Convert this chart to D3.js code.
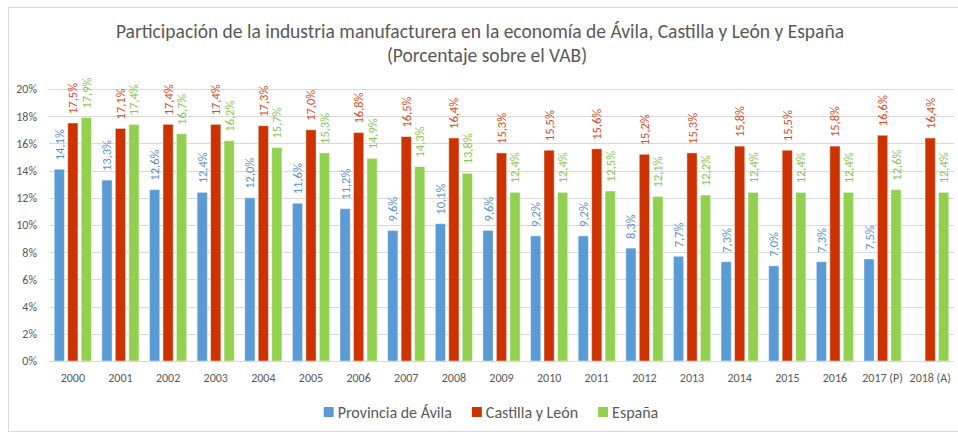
<!DOCTYPE html>
<html>
<head>
<meta charset="utf-8">
<script src="https://cdn.jsdelivr.net/npm/d3@7"></script>
<style>
    body { margin: 0; background: #fff; }
    svg text { font-family: Calibri, Carlito, "Open Sans", sans-serif; }
</style>
</head>
<body>
<div id="chart"></div>
<script>
// years and series
var years = ["2000", "2001", "2002", "2003", "2004", "2005", "2006", "2007", "2008", "2009",
             "2010", "2011", "2012", "2013", "2014", "2015", "2016", "2017 (P)", "2018 (A)"];
var avila  = [14.1, 13.3, 12.6, 12.4, 12.0, 11.6, 11.2, 9.6, 10.1, 9.6, 9.2, 9.2, 8.3, 7.7, 7.3, 7.0, 7.3, 7.5, null];
var cyl    = [17.5, 17.1, 17.4, 17.4, 17.3, 17.0, 16.8, 16.5, 16.4, 15.3, 15.5, 15.6, 15.2, 15.3, 15.8, 15.5, 15.8, 16.6, 16.4];
var espana = [17.9, 17.4, 16.7, 16.2, 15.7, 15.3, 14.9, 14.3, 13.8, 12.4, 12.4, 12.5, 12.1, 12.2, 12.4, 12.4, 12.4, 12.6, 12.4];
var seriesNames = ["Provincia de Ávila", "Castilla y León", "España"];
var yTicks = [0, 2, 4, 6, 8, 10, 12, 14, 16, 18, 20];

var barColors   = ["#5b9bd5", "#cc3300", "#92d050"];
var labelColors = ["#5a8fd6", "#de4a21", "#86c552"];
var textGray = "#595959";

var width = 958, height = 434;
var margin = {top: 89, right: 4, bottom: 73, left: 49};
var innerWidth = width - margin.left - margin.right;
var innerHeight = height - margin.top - margin.bottom;

var es = d3.formatLocale({decimal: ",", thousands: ".", grouping: [3], currency: ["", "€"]});
var fmt = es.format(".1f");

var svg = d3.select("#chart").append("svg")
    .attr("width", width)
    .attr("height", height);

// chart frame
svg.append("rect")
    .attr("x", 8.5).attr("y", 7.5)
    .attr("width", 960).attr("height", 424)
    .attr("fill", "none")
    .attr("stroke", "#d9d9d9");

// title
var title = svg.append("text")
    .attr("text-anchor", "middle")
    .attr("fill", textGray)
    .style("font-size", "19.5px");
title.append("tspan").attr("x", 480).attr("y", 38)
    .text("Participación de la industria manufacturera en la economía de Ávila, Castilla y León y España");
title.append("tspan").attr("x", 487).attr("y", 62)
    .text("(Porcentaje sobre el VAB)");

var g = svg.append("g").attr("transform", "translate(" + margin.left + "," + margin.top + ")");

var x0 = d3.scaleBand().domain(years).range([0, innerWidth]);
var x1 = d3.scaleBand().domain([0, 1, 2])
    .range([x0.bandwidth() / 2 - 18.6, x0.bandwidth() / 2 + 18.6])
    .paddingInner(0.24);
var y = d3.scaleLinear().domain([0, 20]).range([innerHeight, 0]);

// grid lines
g.append("g").selectAll("line")
    .data(yTicks)
    .enter().append("line")
    .attr("x1", 0).attr("x2", innerWidth)
    .attr("y1", function(d) { return Math.round(y(d)) + 0.5; })
    .attr("y2", function(d) { return Math.round(y(d)) + 0.5; })
    .attr("stroke", "#d9d9d9")
    .attr("stroke-width", 1);

// y axis labels
var yAxis = g.append("g")
    .attr("transform", "translate(-9,0)")
    .call(d3.axisLeft(y).tickValues(yTicks).tickSize(0).tickFormat(function(d) { return d + "%"; }));
yAxis.select(".domain").remove();
yAxis.selectAll("text").attr("fill", textGray).style("font-size", "12px");

// x axis labels
var xAxis = g.append("g")
    .attr("transform", "translate(0," + innerHeight + ")")
    .call(d3.axisBottom(x0).tickSize(0).tickPadding(12));
xAxis.select(".domain").remove();
xAxis.selectAll("text").attr("fill", textGray).style("font-size", "12px");

var series = [avila, cyl, espana];
var rows = [];
series.forEach(function(vals, s) {
    vals.forEach(function(v, i) {
        if (v !== null) rows.push({year: years[i], s: s, value: v});
    });
});

var bars = g.append("g").selectAll("g")
    .data(rows)
    .enter().append("g")
    .attr("transform", function(d) { return "translate(" + (x0(d.year) + x1(d.s)) + ",0)"; });

bars.append("rect")
    .attr("x", 0)
    .attr("y", function(d) { return y(d.value); })
    .attr("width", x1.bandwidth())
    .attr("height", function(d) { return innerHeight - y(d.value); })
    .attr("fill", function(d) { return barColors[d.s]; })
    .attr("stroke", "#ffffff")
    .attr("stroke-opacity", 0.45)
    .attr("stroke-width", 1);

bars.append("text")
    .text(function(d) { return fmt(d.value) + "%"; })
    .attr("transform", function(d) {
        return "translate(" + (x1.bandwidth() / 2) + "," + (y(d.value) - 9) + ") rotate(-90)";
    })
    .attr("dominant-baseline", "central")
    .attr("fill", function(d) { return labelColors[d.s]; })
    .style("font-size", "12.5px");

// axis line
g.append("line")
    .attr("x1", 0).attr("x2", innerWidth)
    .attr("y1", innerHeight + 0.5).attr("y2", innerHeight + 0.5)
    .attr("stroke", "#d9d9d9");

// legend
var legend = svg.append("g");
var items = legend.selectAll("g")
    .data(seriesNames)
    .enter().append("g");
items.append("rect")
    .attr("width", 10).attr("height", 10)
    .attr("y", -11)
    .attr("fill", function(d, i) { return barColors[i]; });
items.append("text")
    .attr("x", 14)
    .attr("y", 0)
    .attr("fill", textGray)
    .style("font-size", "16px")
    .text(function(d) { return d; });
var lx = 0;
items.each(function() {
    var w = this.getBBox().width;
    d3.select(this).attr("transform", "translate(" + lx + ",0)");
    lx += w + 20;
});
lx -= 20;
legend.attr("transform", "translate(" + (491 - lx / 2) + ",418)");
</script>
</body>
</html>
